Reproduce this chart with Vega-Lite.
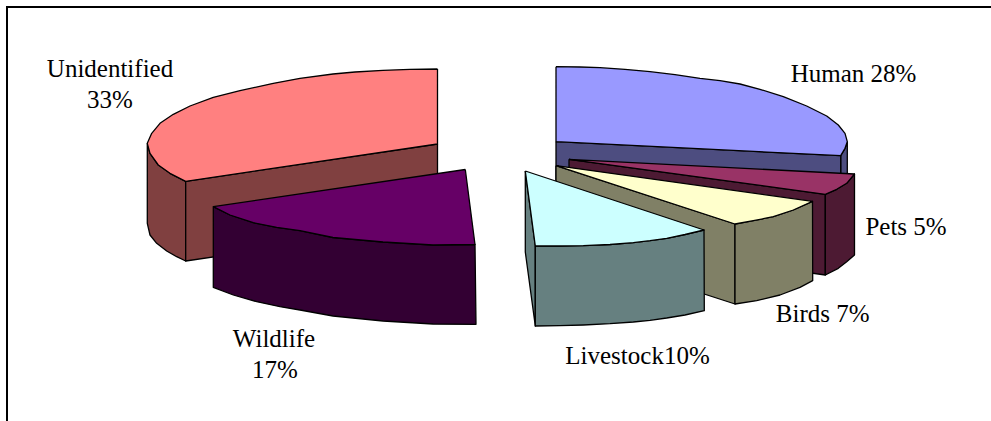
{"$schema":"https://vega.github.io/schema/vega-lite/v6.json","width":991,"height":421,"padding":0,"autosize":"none","background":"white","view":{"stroke":null},
"datasets":{
"frame":[{"i":0,"x":7,"y":421},{"i":1,"x":7,"y":7},{"i":2,"x":991,"y":7}],
"parts":[
{"p":"Unidentified rim","i":0,"x":147.3,"y":143.3},{"p":"Unidentified rim","i":1,"x":150,"y":153.3},{"p":"Unidentified rim","i":2,"x":158.3,"y":165},{"p":"Unidentified rim","i":3,"x":170,"y":173.3},{"p":"Unidentified rim","i":4,"x":185.7,"y":181.3},{"p":"Unidentified rim","i":5,"x":185.7,"y":261},{"p":"Unidentified rim","i":6,"x":176.7,"y":256.7},{"p":"Unidentified rim","i":7,"x":166.7,"y":251},{"p":"Unidentified rim","i":8,"x":156.7,"y":243.3},{"p":"Unidentified rim","i":9,"x":150,"y":235},{"p":"Unidentified rim","i":10,"x":147.3,"y":223.3},{"p":"Unidentified rim","i":11,"x":147.3,"y":143.3},
{"p":"Unidentified flat","i":0,"x":185.7,"y":181.3},{"p":"Unidentified flat","i":1,"x":437.5,"y":144},{"p":"Unidentified flat","i":2,"x":437.5,"y":224},{"p":"Unidentified flat","i":3,"x":185.7,"y":261},{"p":"Unidentified flat","i":4,"x":185.7,"y":181.3},
{"p":"Unidentified top","i":0,"x":437.5,"y":69},{"p":"Unidentified top","i":1,"x":410,"y":69.3},{"p":"Unidentified top","i":2,"x":383,"y":70.3},{"p":"Unidentified top","i":3,"x":355,"y":72},{"p":"Unidentified top","i":4,"x":333,"y":74},{"p":"Unidentified top","i":5,"x":300,"y":78.3},{"p":"Unidentified top","i":6,"x":273.3,"y":83.3},{"p":"Unidentified top","i":7,"x":240,"y":90.7},{"p":"Unidentified top","i":8,"x":213.3,"y":97.3},{"p":"Unidentified top","i":9,"x":190,"y":106},{"p":"Unidentified top","i":10,"x":173.3,"y":114.3},{"p":"Unidentified top","i":11,"x":160,"y":123.3},{"p":"Unidentified top","i":12,"x":151.7,"y":133.3},{"p":"Unidentified top","i":13,"x":147.3,"y":143.3},{"p":"Unidentified top","i":14,"x":150,"y":153.3},{"p":"Unidentified top","i":15,"x":158.3,"y":165},{"p":"Unidentified top","i":16,"x":170,"y":173.3},{"p":"Unidentified top","i":17,"x":185.7,"y":181.3},{"p":"Unidentified top","i":18,"x":437.5,"y":144},{"p":"Unidentified top","i":19,"x":437.5,"y":69},
{"p":"Human rim","i":0,"x":847.3,"y":141.7},{"p":"Human rim","i":1,"x":847.3,"y":220},{"p":"Human rim","i":2,"x":840.7,"y":235},{"p":"Human rim","i":3,"x":840.7,"y":155.7},{"p":"Human rim","i":4,"x":845,"y":148.3},{"p":"Human rim","i":5,"x":847.3,"y":141.7},
{"p":"Human flat","i":0,"x":556,"y":141.7},{"p":"Human flat","i":1,"x":840.7,"y":155.7},{"p":"Human flat","i":2,"x":840.7,"y":235},{"p":"Human flat","i":3,"x":556,"y":221},{"p":"Human flat","i":4,"x":556,"y":141.7},
{"p":"Human top","i":0,"x":556,"y":66.7},{"p":"Human top","i":1,"x":580,"y":67},{"p":"Human top","i":2,"x":600,"y":67.7},{"p":"Human top","i":3,"x":625,"y":69.3},{"p":"Human top","i":4,"x":650,"y":71.7},{"p":"Human top","i":5,"x":675,"y":74.7},{"p":"Human top","i":6,"x":700,"y":78.3},{"p":"Human top","i":7,"x":720,"y":80.7},{"p":"Human top","i":8,"x":740,"y":84},{"p":"Human top","i":9,"x":760,"y":89.3},{"p":"Human top","i":10,"x":783.3,"y":96.7},{"p":"Human top","i":11,"x":806.7,"y":106},{"p":"Human top","i":12,"x":826.7,"y":116},{"p":"Human top","i":13,"x":838.3,"y":125},{"p":"Human top","i":14,"x":845,"y":133.3},{"p":"Human top","i":15,"x":847.3,"y":141.7},{"p":"Human top","i":16,"x":845,"y":148.3},{"p":"Human top","i":17,"x":840.7,"y":155.7},{"p":"Human top","i":18,"x":556,"y":141.7},{"p":"Human top","i":19,"x":556,"y":66.7},
{"p":"Pets flat","i":0,"x":569,"y":159.3},{"p":"Pets flat","i":1,"x":825.3,"y":194.3},{"p":"Pets flat","i":2,"x":825.3,"y":275},{"p":"Pets flat","i":3,"x":569,"y":239},{"p":"Pets flat","i":4,"x":569,"y":159.3},
{"p":"Pets rim","i":0,"x":825.3,"y":194.3},{"p":"Pets rim","i":1,"x":836.7,"y":189.3},{"p":"Pets rim","i":2,"x":846.7,"y":183.3},{"p":"Pets rim","i":3,"x":854.5,"y":174},{"p":"Pets rim","i":4,"x":854.5,"y":255},{"p":"Pets rim","i":5,"x":846.7,"y":261.7},{"p":"Pets rim","i":6,"x":838.3,"y":268.3},{"p":"Pets rim","i":7,"x":825.3,"y":275},{"p":"Pets rim","i":8,"x":825.3,"y":194.3},
{"p":"Pets top","i":0,"x":569,"y":159.3},{"p":"Pets top","i":1,"x":854.5,"y":174},{"p":"Pets top","i":2,"x":846.7,"y":183.3},{"p":"Pets top","i":3,"x":836.7,"y":189.3},{"p":"Pets top","i":4,"x":825.3,"y":194.3},{"p":"Pets top","i":5,"x":569,"y":159.3},
{"p":"Birds flat","i":0,"x":556,"y":165.7},{"p":"Birds flat","i":1,"x":735,"y":224},{"p":"Birds flat","i":2,"x":735,"y":304},{"p":"Birds flat","i":3,"x":556,"y":246},{"p":"Birds flat","i":4,"x":556,"y":165.7},
{"p":"Birds rim","i":0,"x":735,"y":224},{"p":"Birds rim","i":1,"x":753.3,"y":220.7},{"p":"Birds rim","i":2,"x":773.3,"y":216.7},{"p":"Birds rim","i":3,"x":793.3,"y":210},{"p":"Birds rim","i":4,"x":812.5,"y":201.3},{"p":"Birds rim","i":5,"x":812.7,"y":280.7},{"p":"Birds rim","i":6,"x":800,"y":287.3},{"p":"Birds rim","i":7,"x":780,"y":295},{"p":"Birds rim","i":8,"x":756.7,"y":300.7},{"p":"Birds rim","i":9,"x":735,"y":304},{"p":"Birds rim","i":10,"x":735,"y":224},
{"p":"Birds top","i":0,"x":556,"y":165.7},{"p":"Birds top","i":1,"x":812.5,"y":201.3},{"p":"Birds top","i":2,"x":793.3,"y":210},{"p":"Birds top","i":3,"x":773.3,"y":216.7},{"p":"Birds top","i":4,"x":753.3,"y":220.7},{"p":"Birds top","i":5,"x":735,"y":224},{"p":"Birds top","i":6,"x":556,"y":165.7},
{"p":"Livestock flat","i":0,"x":525.3,"y":171},{"p":"Livestock flat","i":1,"x":535.3,"y":246},{"p":"Livestock flat","i":2,"x":535.3,"y":326},{"p":"Livestock flat","i":3,"x":525.3,"y":252},{"p":"Livestock flat","i":4,"x":525.3,"y":171},
{"p":"Livestock rim","i":0,"x":535.3,"y":246},{"p":"Livestock rim","i":1,"x":560,"y":246},{"p":"Livestock rim","i":2,"x":583.3,"y":245.7},{"p":"Livestock rim","i":3,"x":610,"y":244.5},{"p":"Livestock rim","i":4,"x":633.3,"y":242.7},{"p":"Livestock rim","i":5,"x":650,"y":240.7},{"p":"Livestock rim","i":6,"x":666.7,"y":238.3},{"p":"Livestock rim","i":7,"x":685,"y":234.5},{"p":"Livestock rim","i":8,"x":704,"y":230},{"p":"Livestock rim","i":9,"x":704.3,"y":310.7},{"p":"Livestock rim","i":10,"x":685,"y":315},{"p":"Livestock rim","i":11,"x":666.7,"y":318},{"p":"Livestock rim","i":12,"x":650,"y":320.3},{"p":"Livestock rim","i":13,"x":633.3,"y":322},{"p":"Livestock rim","i":14,"x":610,"y":323.7},{"p":"Livestock rim","i":15,"x":583.3,"y":325},{"p":"Livestock rim","i":16,"x":560,"y":325.7},{"p":"Livestock rim","i":17,"x":535.3,"y":326},{"p":"Livestock rim","i":18,"x":535.3,"y":246},
{"p":"Livestock top","i":0,"x":525.3,"y":171},{"p":"Livestock top","i":1,"x":704,"y":230},{"p":"Livestock top","i":2,"x":685,"y":234.5},{"p":"Livestock top","i":3,"x":666.7,"y":238.3},{"p":"Livestock top","i":4,"x":650,"y":240.7},{"p":"Livestock top","i":5,"x":633.3,"y":242.7},{"p":"Livestock top","i":6,"x":610,"y":244.5},{"p":"Livestock top","i":7,"x":583.3,"y":245.7},{"p":"Livestock top","i":8,"x":560,"y":246},{"p":"Livestock top","i":9,"x":535.3,"y":246},{"p":"Livestock top","i":10,"x":525.3,"y":171},
{"p":"Wildlife rim","i":0,"x":213.3,"y":206.7},{"p":"Wildlife rim","i":1,"x":230,"y":215},{"p":"Wildlife rim","i":2,"x":253.3,"y":222.7},{"p":"Wildlife rim","i":3,"x":276.7,"y":227.3},{"p":"Wildlife rim","i":4,"x":300,"y":230.7},{"p":"Wildlife rim","i":5,"x":333,"y":237.5},{"p":"Wildlife rim","i":6,"x":383,"y":242},{"p":"Wildlife rim","i":7,"x":433,"y":245},{"p":"Wildlife rim","i":8,"x":475,"y":244.5},{"p":"Wildlife rim","i":9,"x":476,"y":324.3},{"p":"Wildlife rim","i":10,"x":433,"y":324},{"p":"Wildlife rim","i":11,"x":383,"y":321},{"p":"Wildlife rim","i":12,"x":333,"y":316},{"p":"Wildlife rim","i":13,"x":300,"y":310},{"p":"Wildlife rim","i":14,"x":280,"y":306.7},{"p":"Wildlife rim","i":15,"x":256.7,"y":301.7},{"p":"Wildlife rim","i":16,"x":233.3,"y":295},{"p":"Wildlife rim","i":17,"x":213.3,"y":287.3},{"p":"Wildlife rim","i":18,"x":213.3,"y":206.7},
{"p":"Wildlife top","i":0,"x":465.3,"y":169.5},{"p":"Wildlife top","i":1,"x":213.3,"y":206.7},{"p":"Wildlife top","i":2,"x":230,"y":215},{"p":"Wildlife top","i":3,"x":253.3,"y":222.7},{"p":"Wildlife top","i":4,"x":276.7,"y":227.3},{"p":"Wildlife top","i":5,"x":300,"y":230.7},{"p":"Wildlife top","i":6,"x":333,"y":237.5},{"p":"Wildlife top","i":7,"x":383,"y":242},{"p":"Wildlife top","i":8,"x":433,"y":245},{"p":"Wildlife top","i":9,"x":475,"y":244.5},{"p":"Wildlife top","i":10,"x":465.3,"y":169.5}
],
"labels":[
{"t":"Unidentified","x":110,"y":77},{"t":"33%","x":110,"y":108},{"t":"Wildlife","x":274,"y":347},{"t":"17%","x":275,"y":378},{"t":"Human 28%","x":853.5,"y":82},{"t":"Pets 5%","x":906,"y":235},{"t":"Birds 7%","x":822.7,"y":321.7},{"t":"Livestock10%","x":637.5,"y":364}
]},
"encoding":{
"x":{"field":"x","type":"quantitative","axis":null,"scale":{"domain":[0,991],"nice":false,"zero":false}},
"y":{"field":"y","type":"quantitative","axis":null,"scale":{"domain":[421,0],"nice":false,"zero":false}}
},
"layer":[
{"data":{"name":"frame"},"mark":{"type":"line","stroke":"black","strokeWidth":2,"strokeJoin":"miter"},"encoding":{"order":{"field":"i","type":"quantitative"}}},
{"data":{"name":"parts"},"mark":{"type":"line","stroke":"black","strokeWidth":1.3,"strokeJoin":"round"},"encoding":{
"order":{"field":"i","type":"quantitative"},
"fill":{"field":"p","type":"nominal","legend":null,"sort":null,"scale":{
"domain":["Unidentified rim","Unidentified flat","Unidentified top","Human rim","Human flat","Human top","Pets flat","Pets rim","Pets top","Birds flat","Birds rim","Birds top","Livestock flat","Livestock rim","Livestock top","Wildlife rim","Wildlife top"],
"range":["#804040","#804040","#FF8080","#4D4D80","#4D4D80","#9999FF","#4D1A33","#4D1A33","#993366","#808066","#808066","#FFFFCC","#668080","#668080","#CCFFFF","#330033","#660066"]}}}},
{"data":{"name":"labels"},"mark":{"type":"text","font":"Liberation Serif","fontSize":25,"align":"center","baseline":"alphabetic","color":"black"},"encoding":{"text":{"field":"t","type":"nominal"}}}
]}
